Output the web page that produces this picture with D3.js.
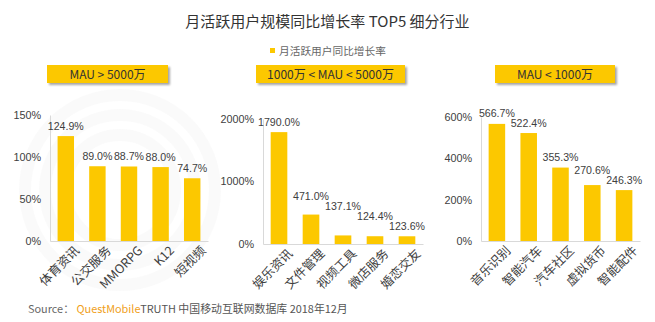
<!DOCTYPE html>
<html><head><meta charset="utf-8">
<script src="https://cdn.jsdelivr.net/npm/d3@7"></script>
<style>body{margin:0;background:#fff}svg{display:block}</style>
</head><body>
<script>
const title = "月活跃用户规模同比增长率 TOP5 细分行业";
const legendLabel = "月活跃用户同比增长率";
const panelTitles = ["MAU > 5000万", "1000万 < MAU < 5000万", "MAU < 1000万"];
const categories1 = ["体育资讯", "公交服务", "MMORPG", "K12", "短视频"];
const values1 = [124.9, 89.0, 88.7, 88.0, 74.7];
const categories2 = ["娱乐资讯", "文件管理", "视频工具", "微店服务", "婚恋交友"];
const values2 = [1790.0, 471.0, 137.1, 124.4, 123.6];
const categories3 = ["音乐识别", "智能汽车", "汽车社区", "虚拟货币", "智能配件"];
const values3 = [566.7, 522.4, 355.3, 270.6, 246.3];
const ticks1 = [0, 50, 100, 150];
const ticks2 = [0, 1000, 2000];
const ticks3 = [0, 200, 400, 600];

const W = 655, H = 322;
const YELLOW = "#FCC800";
const cjk = "'Noto Sans CJK SC','Microsoft YaHei',sans-serif";
const latin = "'Liberation Sans',Arial,sans-serif";

const svg = d3.select("body").append("svg").attr("width", W).attr("height", H);

const defs = svg.append("defs");
const f = defs.append("filter").attr("id", "sh").attr("x", "-10%").attr("y", "-30%").attr("width", "130%").attr("height", "190%");
f.append("feDropShadow").attr("dx", 2).attr("dy", 2).attr("stdDeviation", 1.2).attr("flood-color", "#000").attr("flood-opacity", 0.35);

// faint watermark rings
const wm = svg.append("g").attr("opacity", 0.035);
[95, 75, 55].forEach(r => wm.append("circle").attr("cx", 120).attr("cy", 190).attr("r", r)
  .attr("fill", "none").attr("stroke", "#888").attr("stroke-width", 12));

svg.append("text").attr("x", 327.5).attr("y", 27).attr("text-anchor", "middle")
  .attr("font-family", cjk).attr("font-size", 15).attr("fill", "#333").text(title);

svg.append("rect").attr("x", 270).attr("y", 48).attr("width", 5).attr("height", 5).attr("fill", YELLOW);
svg.append("text").attr("x", 279).attr("y", 54.5).attr("font-family", cjk).attr("font-size", 10.7)
  .attr("fill", "#666").text(legendLabel);

const panels = [
  {cats: categories1, vals: values1, ticks: ticks1, max: 150, x0: 50, x1: 208, y0: 241, y1: 115, box: [47, 168]},
  {cats: categories2, vals: values2, ticks: ticks2, max: 2000, x0: 263, x1: 423, y0: 244, y1: 119, box: [256, 405]},
  {cats: categories3, vals: values3, ticks: ticks3, max: 600, x0: 481, x1: 640, y0: 241, y1: 117, box: [495, 615]}
];

panels.forEach((p, i) => {
  const bw = p.box[1] - p.box[0];
  svg.append("rect").attr("x", p.box[0]).attr("y", 65).attr("width", bw).attr("height", 18)
    .attr("fill", YELLOW).attr("filter", "url(#sh)");
  svg.append("text").attr("x", p.box[0] + bw / 2).attr("y", 78.5).attr("text-anchor", "middle")
    .attr("font-family", cjk).attr("font-size", 12).attr("fill", "#333").text(panelTitles[i]);

  const x = d3.scaleBand().domain(p.cats).range([p.x0, p.x1]).paddingInner(0.48).paddingOuter(0.24);
  const y = d3.scaleLinear().domain([0, p.max]).range([p.y0, p.y1]);
  const g = svg.append("g");

  const ya = g.append("g").attr("transform", `translate(${p.x0},0)`)
    .call(d3.axisLeft(y).tickValues(p.ticks).tickSize(0).tickPadding(9).tickFormat(d => d + "%"));
  ya.select(".domain").attr("stroke", "#d9d9d9");
  ya.selectAll("text").attr("font-family", latin).attr("font-size", 10.8).attr("fill", "#404040");

  g.selectAll("rect.bar").data(p.vals).join("rect").attr("class", "bar")
    .attr("x", (d, j) => x(p.cats[j])).attr("width", x.bandwidth())
    .attr("y", d => y(d)).attr("height", d => y(0) - y(d)).attr("fill", YELLOW);

  const xa = g.append("g").attr("transform", `translate(0,${p.y0})`)
    .call(d3.axisBottom(x).tickSize(0).tickPadding(6));
  xa.select(".domain").attr("stroke", "#d9d9d9");
  xa.selectAll("text").attr("font-family", cjk).attr("font-size", 12.5).attr("fill", "#404040")
    .attr("text-anchor", "end").attr("dy", "0.35em")
    .attr("transform", "translate(7,3) rotate(-45)");

  const labels = g.selectAll("text.val").data(p.vals).join("text").attr("class", "val")
    .attr("x", (d, j) => x(p.cats[j]) + x.bandwidth() / 2).attr("y", d => y(d) - 6.5)
    .attr("text-anchor", "middle").attr("font-family", latin).attr("font-size", 10.6).attr("fill", "#404040")
    .text(d => d.toFixed(1) + "%");

  // simple collision avoidance: raise a label above its right neighbour if they overlap
  const nodes = labels.nodes();
  const ys = p.vals.map(d => y(d) - 6.5);
  for (let k = nodes.length - 2; k >= 0; k--) {
    const a = nodes[k].getBBox(), b = nodes[k + 1].getBBox();
    const xOverlap = a.x + a.width > b.x;
    if (xOverlap && Math.abs(ys[k] - ys[k + 1]) < 10) {
      ys[k] = Math.min(ys[k], ys[k + 1] - 10);
      d3.select(nodes[k]).attr("y", ys[k]);
    }
  }
});

const src = svg.append("text").attr("x", 28).attr("y", 313).attr("font-family", cjk).attr("font-size", 10.9);
src.append("tspan").attr("fill", "#666").text("Source： ");
src.append("tspan").attr("fill", "#F0A020").text("QuestMobile");
src.append("tspan").attr("fill", "#555").text("TRUTH 中国移动互联网数据库 2018年12月");
</script>
</body></html>
